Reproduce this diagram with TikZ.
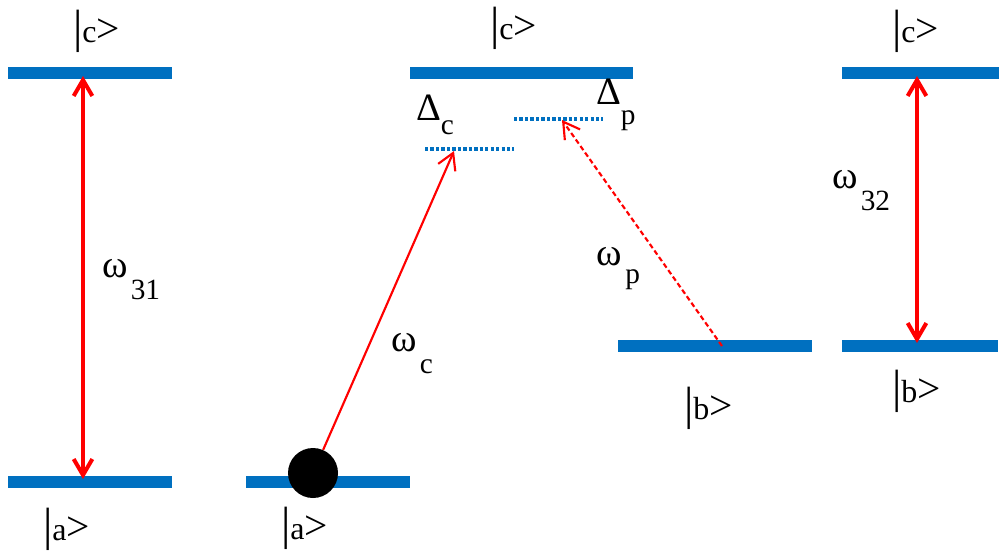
\documentclass[tikz,border=0pt]{standalone}
\usepackage{fontspec}
\setmainfont{Liberation Serif}
\usetikzlibrary{arrows.meta}
\definecolor{barblue}{HTML}{0070C0}
\definecolor{arrred}{HTML}{FF0000}
\newcommand\myket[1]{{\fontsize{35}{35}\selectfont|}{\fontsize{24}{24}\selectfont #1}{\fontsize{31}{31}\selectfont>}}
\newcommand\bigsym[1]{{\fontsize{29}{29}\selectfont #1}}
\newcommand\subsym[2]{\raisebox{-#1}{\fontsize{22}{22}\selectfont #2}}
\begin{document}
\begin{tikzpicture}[x=0.75pt,y=-0.75pt,
  bar/.style={rectangle, fill=barblue, draw=none, inner sep=0pt, outer sep=0pt, minimum height=9pt},
  lbl/.style={anchor=base west, inner sep=0pt, outer sep=0pt},
  dotlevel/.style={draw=barblue, line width=2.5pt, dash pattern=on 2.5pt off 1.6pt},
  dblarrow/.style={draw=arrred, line width=3pt, {Straight Barb[length=12pt,width=14pt]}-{Straight Barb[length=12pt,width=14pt]}},
  transarrow/.style={draw=arrred, line width=1.6pt, -{Straight Barb[length=12pt,width=14pt]}},
  dasharrow/.style={transarrow, dash pattern=on 3.75pt off 2.25pt}]
\useasboundingbox (0,0) rectangle (1000,551);
% levels
\node[bar, minimum width=123pt] (c1) at (90,73) {};
\node[bar, minimum width=123pt] (a1) at (90,482) {};
\node[bar, minimum width=167.25pt] (c2) at (521.5,73) {};
\node[bar, minimum width=123pt] (a2) at (328,482) {};
\node[bar, minimum width=145.5pt] (b2) at (715,346) {};
\node[bar, minimum width=117.75pt] (c3) at (920.5,73) {};
\node[bar, minimum width=117pt] (b3) at (920,346) {};
% detuned levels
\coordinate (dcl) at (425,149);
\coordinate (dcr) at (514,149);
\coordinate (dpl) at (514,119);
\coordinate (dpr) at (603,119);
\draw[dotlevel] (dcl) -- (dcr);
\draw[dotlevel] (dpl) -- (dpr);
% arrow ends
\coordinate (t1) at (83,76);
\coordinate (s1) at (83,479);
\coordinate (t3) at (917,76);
\coordinate (s3) at (917,343);
\coordinate (tc) at (454,151);
\coordinate (tp) at (562,120);
\coordinate (sp) at (722,346);
\draw[dblarrow] (t1) -- (s1);
\draw[dblarrow] (t3) -- (s3);
\draw[dasharrow] (sp) -- (tp);
% atom
\node[circle, fill=black, inner sep=0pt, minimum size=37.5pt] (atom) at (313,473) {};
\draw[transarrow] (atom) -- (tc);
% state labels
\node[lbl] (lc1) at (73,42) {\myket{c}};
\node[lbl] (lc2) at (490,39) {\myket{c}};
\node[lbl] (lc3) at (892,42) {\myket{c}};
\node[lbl] (la1) at (43,540) {\myket{a}};
\node[lbl] (la2) at (281,539) {\myket{a}};
\node[lbl] (lb2) at (684,419) {\myket{b}};
\node[lbl] (lb3) at (892,402) {\myket{b}};
% frequency labels
\node[lbl] (w31) at (102,277) {\bigsym{ω}\hspace{2.5pt}\subsym{16.5pt}{31}};
\node[lbl] (wc) at (391,351) {\bigsym{ω}\hspace{2.5pt}\subsym{16.5pt}{c}};
\node[lbl] (wp) at (596,265) {\bigsym{ω}\hspace{3pt}\subsym{13.5pt}{p}};
\node[lbl] (w32) at (832,188) {\bigsym{ω}\hspace{2.5pt}\subsym{16.5pt}{32}};
\node[lbl] (dc) at (416,120) {\bigsym{Δ}\subsym{10.5pt}{c}};
\node[lbl] (dp) at (596,104) {\bigsym{Δ}\subsym{15pt}{p}};
\end{tikzpicture}
\end{document}
